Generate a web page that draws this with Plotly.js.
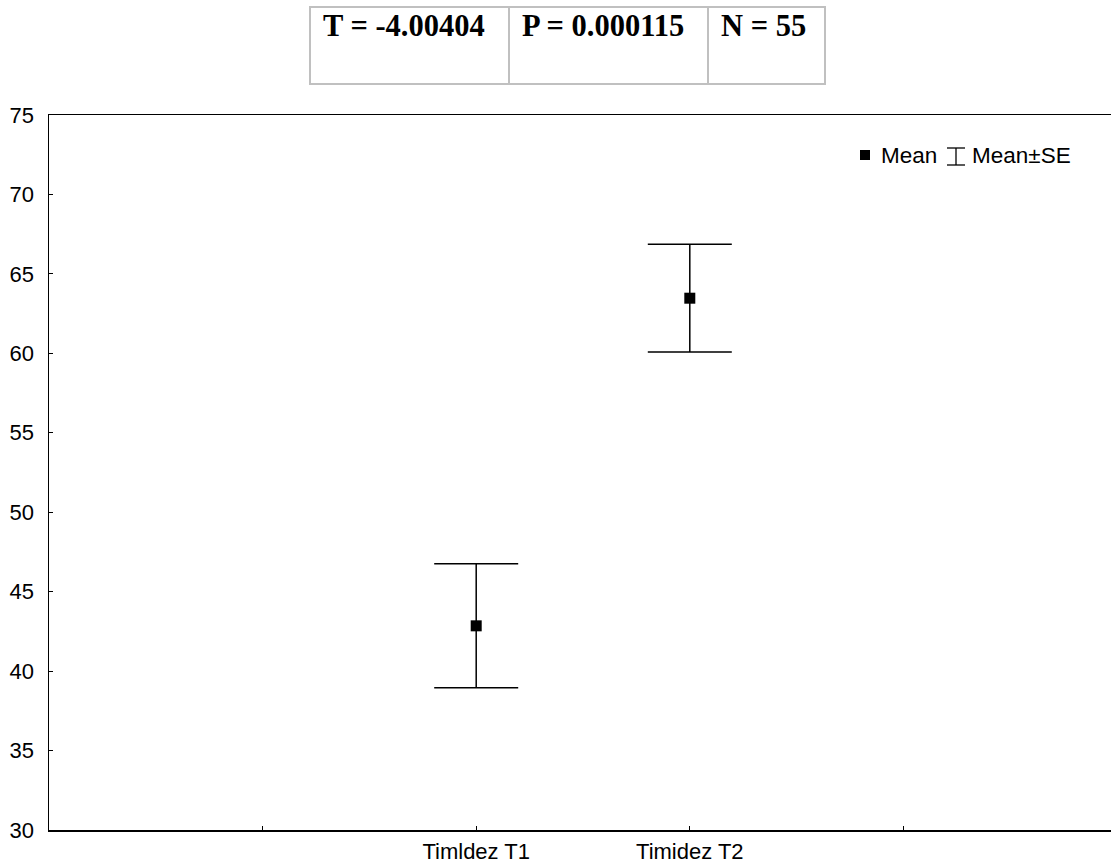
<!DOCTYPE html>
<html>
<head>
<meta charset="utf-8">
<script src="https://cdn.plot.ly/plotly-3.0.1.min.js"></script>
<style>
html,body{margin:0;padding:0;background:#fff;overflow:hidden;width:1111px;height:865px;}
#chart{width:1117px;height:865px;}
</style>
</head>
<body>
<div id="chart"></div>
<script>
// ---- data ----
const categories = ['Timldez T1', 'Timidez T2'];
const means = [42.85, 63.47];
const se = [3.9, 3.39];
const tickLabels = ['', 'Timldez T1', 'Timidez T2', ''];
const statLabels = ['T = -4.00404', 'P = 0.000115', 'N = 55'];
const legendLabels = ['Mean', 'Mean\u00B1SE'];

// ---- geometry helpers (pixel -> paper) ----
const L = 49, R = 1117, T = 115, B = 830;
const px = x => (x - L) / (R - L);
const py = y => (B - y) / (B - T);

const xs = categories.map((c, i) => i + 1);

const trace = {
  type: 'scatter',
  mode: 'markers',
  x: xs,
  y: means,
  marker: {symbol: 'square', size: 11, color: '#000'},
  error_y: {type: 'data', array: se, visible: true, color: '#000', thickness: 1.5, width: 42},
  showlegend: false,
  hoverinfo: 'y'
};

const shapes = [];
const annotations = [];
const gray = '#c0c0c0';

// stats table
const tblX = [310, 509, 708, 825];
const tblTop = 7, tblBot = 84;
shapes.push({type: 'rect', xref: 'paper', yref: 'paper', x0: px(tblX[0]), x1: px(tblX[3]), y0: py(tblBot), y1: py(tblTop), line: {color: gray, width: 2}, fillcolor: 'rgba(0,0,0,0)'});
[1, 2].forEach(i => shapes.push({type: 'line', xref: 'paper', yref: 'paper', x0: px(tblX[i]), x1: px(tblX[i]), y0: py(tblBot), y1: py(tblTop), line: {color: gray, width: 2}}));
statLabels.forEach((s, i) => annotations.push({
  xref: 'paper', yref: 'paper', x: px(tblX[i] + 11), y: py(26), xanchor: 'left', yanchor: 'middle',
  text: '<b>' + s + '</b>', showarrow: false,
  font: {family: 'Times New Roman, Liberation Serif, serif', size: 30.5, color: '#000'}
}));

// legend
shapes.push({type: 'rect', xref: 'paper', yref: 'paper', x0: px(860), x1: px(870), y0: py(160), y1: py(150), fillcolor: '#000', line: {width: 0}});
annotations.push({xref: 'paper', yref: 'paper', x: px(879), y: py(156), xanchor: 'left', yanchor: 'middle', text: legendLabels[0], showarrow: false, font: {family: 'Arial, Liberation Sans, sans-serif', size: 22.5, color: '#000'}});
// I-beam icon
shapes.push({type: 'line', xref: 'paper', yref: 'paper', x0: px(956), x1: px(956), y0: py(165), y1: py(148), line: {color: '#000', width: 1.3}});
shapes.push({type: 'line', xref: 'paper', yref: 'paper', x0: px(947), x1: px(965), y0: py(148), y1: py(148), line: {color: '#000', width: 1.3}});
shapes.push({type: 'line', xref: 'paper', yref: 'paper', x0: px(947), x1: px(965), y0: py(165), y1: py(165), line: {color: '#000', width: 1.3}});
annotations.push({xref: 'paper', yref: 'paper', x: px(970), y: py(156), xanchor: 'left', yanchor: 'middle', text: legendLabels[1], showarrow: false, font: {family: 'Arial, Liberation Sans, sans-serif', size: 22.5, color: '#000'}});

const layout = {
  width: 1117, height: 865,
  margin: {l: L, r: 1117 - R, t: T, b: 865 - B, pad: 0},
  paper_bgcolor: '#fff', plot_bgcolor: '#fff',
  font: {family: 'Arial, Liberation Sans, sans-serif', size: 22, color: '#000'},
  xaxis: {
    range: [-1, 4], tickvals: [0, 1, 2, 3], ticktext: tickLabels,
    showgrid: false, zeroline: false, showline: true, linecolor: '#000', linewidth: 1.5, mirror: true,
    ticks: 'inside', ticklen: 4, tickcolor: '#000', tickwidth: 1, ticklabelstandoff: 1,
    tickfont: {size: 22}
  },
  yaxis: {
    range: [30, 75], tickvals: [30, 35, 40, 45, 50, 55, 60, 65, 70, 75],
    showgrid: false, zeroline: false, showline: true, linecolor: '#000', linewidth: 1.5, mirror: true,
    ticks: 'inside', ticklen: 4, tickcolor: '#000', tickwidth: 1, ticklabelstandoff: 9,
    tickfont: {size: 22}
  },
  shapes: shapes,
  annotations: annotations,
  showlegend: false
};

Plotly.newPlot('chart', [trace], layout, {displayModeBar: false, staticPlot: true});
</script>
</body>
</html>
